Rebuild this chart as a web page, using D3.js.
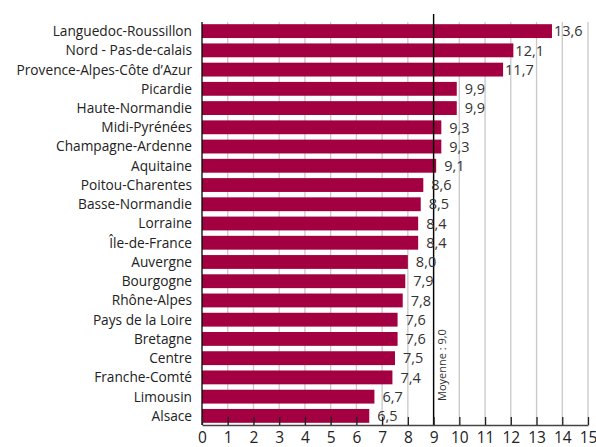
<!DOCTYPE html>
<html>
<head>
<meta charset="utf-8">
<script src="https://cdn.jsdelivr.net/npm/d3@7"></script>
<style>
	body { margin: 0; background: white; }
	text { font-family: "Open Sans", sans-serif; }
</style>
</head>
<body>
<div id="chart"></div>
<script>
let regions = ['Languedoc-Roussillon', 'Nord - Pas-de-calais', 'Provence-Alpes-Côte d\u2019Azur', 'Picardie',
	'Haute-Normandie', 'Midi-Pyrénées', 'Champagne-Ardenne', 'Aquitaine', 'Poitou-Charentes',
	'Basse-Normandie', 'Lorraine', 'Île-de-France', 'Auvergne', 'Bourgogne', 'Rhône-Alpes',
	'Pays de la Loire', 'Bretagne', 'Centre', 'Franche-Comté', 'Limousin', 'Alsace'];
let rates = [13.6, 12.1, 11.7, 9.9, 9.9, 9.3, 9.3, 9.1, 8.6, 8.5, 8.4, 8.4, 8.0, 7.9, 7.8, 7.6, 7.6, 7.5, 7.4, 6.7, 6.5];
let xTicks = [0, 1, 2, 3, 4, 5, 6, 7, 8, 9, 10, 11, 12, 13, 14, 15];
let moyenne = 9.0;

let width = 596,
	height = 447;

let svg = d3.select('#chart')
	.append('svg')
	.attr('width', width)
	.attr('height', height);

let x = d3.scaleLinear().domain([0, 15]).range([202, 588]);
let y = d3.scaleBand().domain(regions).range([21.5, 425.5]).paddingInner(0.28).paddingOuter(0.14);

let fmt = v => d3.format('.1f')(v).replace('.', ',');

// grid
svg.append('g')
	.selectAll('line')
	.data(xTicks.slice(1))
	.join('line')
	.attr('x1', d => x(d))
	.attr('x2', d => x(d))
	.attr('y1', 22)
	.attr('y2', 425)
	.style('stroke', '#c8c8c8')
	.style('stroke-width', 1.3);

// bars
svg.append('g')
	.selectAll('rect')
	.data(regions)
	.join('rect')
	.attr('x', x(0))
	.attr('y', d => y(d))
	.attr('width', (d, i) => x(rates[i]) - x(0))
	.attr('height', y.bandwidth())
	.style('fill', '#a30041');

// mean line
svg.append('line')
	.attr('x1', x(moyenne))
	.attr('x2', x(moyenne))
	.attr('y1', 14)
	.attr('y2', 425)
	.style('stroke', 'black')
	.style('stroke-width', 1.4);

svg.append('text')
	.attr('transform', 'translate(' + (x(moyenne) + 12) + ',401) rotate(-90)')
	.style('font-size', '11px')
	.style('fill', '#333')
	.text('Moyenne : ' + fmt(moyenne));

// value labels
svg.append('g')
	.selectAll('text')
	.data(regions)
	.join('text')
	.attr('x', (d, i) => x(rates[i]) + (rates[i] >= 10 ? 2 : 8))
	.attr('y', d => y(d) + y.bandwidth() / 2)
	.attr('dy', '0.36em')
	.style('font-size', '14.5px')
	.style('fill', '#333')
	.text((d, i) => fmt(rates[i]));

// category labels
svg.append('g')
	.selectAll('text')
	.data(regions)
	.join('text')
	.attr('x', 192)
	.attr('y', d => y(d) + y.bandwidth() / 2)
	.attr('dy', '0.36em')
	.attr('text-anchor', 'end')
	.style('font-size', '13.7px')
	.style('fill', '#222')
	.text(d => d);

// axes
svg.append('line')
	.attr('x1', x(0))
	.attr('x2', x(0))
	.attr('y1', 22)
	.attr('y2', 425)
	.style('stroke', 'black')
	.style('stroke-width', 1.3);

let xAxis = svg.append('g')
	.attr('transform', 'translate(0,425)')
	.call(d3.axisBottom(x).tickValues(xTicks).tickSizeInner(-8).tickSizeOuter(0).tickPadding(7).tickFormat(d => d));

xAxis.select('.domain').style('stroke', '#444').style('stroke-width', 1.5);
xAxis.selectAll('.tick line').style('stroke', '#222').style('stroke-width', 1.3);
xAxis.selectAll('.tick text')
	.style('font-size', '15.5px')
	.style('fill', '#222')
	.style('font-family', '"Open Sans", sans-serif');
</script>
</body>
</html>
